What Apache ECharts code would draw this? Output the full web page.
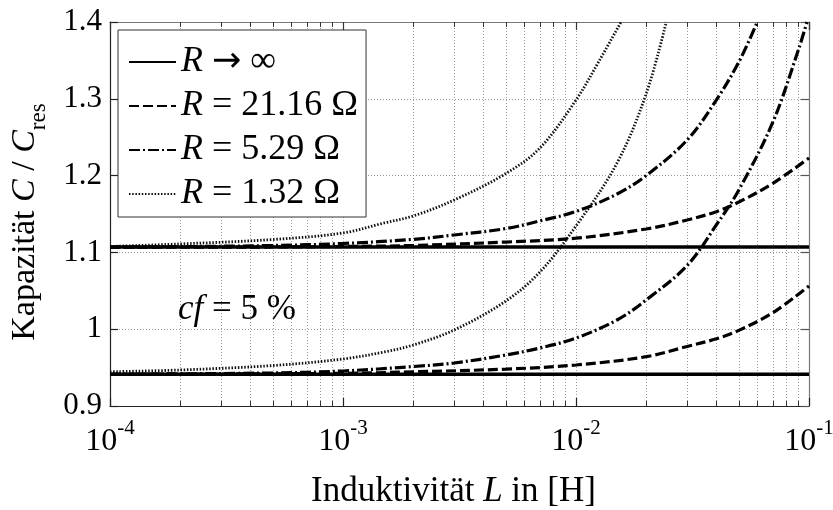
<!DOCTYPE html>
<html>
<head>
<meta charset="utf-8">
<script src="https://cdn.jsdelivr.net/npm/echarts@6/dist/echarts.min.js"></script>
<style>
  html, body { margin: 0; padding: 0; background: #fff; }
  #chart { width: 833px; height: 510px; }
</style>
</head>
<body>
<div id="chart"></div>
<script>
// Legend entries (one per resistance), x tick exponents, y range
const legendLabels = ['R → ∞', 'R = 21.16 Ω', 'R = 5.29 Ω', 'R = 1.32 Ω'];
const xExponents = [-4, -3, -2, -1];
const minorMultipliers = [2, 3, 4, 5, 6, 7, 8, 9];
const yMin = 0.9, yMax = 1.4, yStep = 0.1;

// Upper branch, C / C_res over inductance L in H
const upInfL = [1e-4, 1e-1];
const upInfC = [1.107, 1.107];
const up2116L = [1e-4, 5e-4, 1e-3, 2e-3, 5e-3, 1e-2, 2e-2, 3e-2, 4e-2, 5e-2, 7e-2, 1e-1];
const up2116C = [1.1066, 1.107, 1.1077, 1.109, 1.1135, 1.1185, 1.1305, 1.1422, 1.153, 1.1656, 1.190, 1.2229];
const up529L = [1e-4, 2e-4, 5e-4, 1e-3, 2e-3, 3e-3, 5e-3, 7e-3, 1e-2, 1.5e-2, 2e-2, 3e-2, 4e-2, 5e-2, 6e-2];
const up529C = [1.107, 1.1075, 1.109, 1.1116, 1.117, 1.1227, 1.131, 1.141, 1.1533, 1.176, 1.200, 1.2464, 1.2984, 1.348, 1.40];
const up132L = [1e-4, 2e-4, 5e-4, 1e-3, 1.5e-3, 2e-3, 3e-3, 5e-3, 7e-3, 1e-2, 1.25e-2, 1.56e-2];
const up132C = [1.1077, 1.111, 1.1168, 1.1253, 1.1383, 1.1474, 1.1682, 1.2027, 1.2359, 1.2984, 1.348, 1.40];

// Lower branch
const loInfL = [1e-4, 1e-1];
const loInfC = [0.9413, 0.9413];
const lo2116L = [1e-4, 1e-3, 2e-3, 5e-3, 1e-2, 2e-2, 3e-2, 4e-2, 5e-2, 7e-2, 1e-1];
const lo2116C = [0.9413, 0.9425, 0.9445, 0.948, 0.9534, 0.9642, 0.9775, 0.9875, 0.9985, 1.0215, 1.0563];
const lo529L = [1e-4, 5e-4, 1e-3, 2e-3, 3e-3, 5e-3, 7e-3, 1e-2, 1.5e-2, 2e-2, 3e-2, 4e-2, 5e-2, 7e-2, 9e-2, 9.8e-2];
const lo529C = [0.9413, 0.943, 0.9456, 0.9514, 0.956, 0.9664, 0.9755, 0.9885, 1.012, 1.038, 1.083, 1.1357, 1.1813, 1.2698, 1.3635, 1.40];
const lo132L = [1e-4, 2e-4, 5e-4, 1e-3, 1.5e-3, 2e-3, 3e-3, 5e-3, 7e-3, 1e-2, 1.5e-2, 2e-2, 2.44e-2];
const lo132C = [0.9446, 0.9469, 0.9527, 0.9612, 0.9703, 0.9794, 0.999, 1.0367, 1.0745, 1.1344, 1.2164, 1.3063, 1.40];

const FONT = '"Liberation Serif", "Times New Roman", serif';

const lineStyles = [
  { color: '#000', width: 3.6, type: 'solid' },
  { color: '#000', width: 3.2, type: [10, 4] },
  { color: '#000', width: 3.2, type: [11, 3, 2, 3] },
  { color: '#111', width: 2.8, type: [1.5, 1.7] }
];

function pairs(xs, ys) { return xs.map((x, i) => [x, ys[i]]); }

function curve(idx, xs, ys, z) {
  return {
    name: legendLabels[idx],
    type: 'line',
    data: pairs(xs, ys),
    smooth: 0.35,
    symbol: 'none',
    showSymbol: false,
    lineStyle: lineStyles[idx],
    itemStyle: { color: lineStyles[idx].color },
    z: z,
    silent: true
  };
}

// Log-paper minor positions: 2..9 within each decade
const minorValues = [];
xExponents.slice(0, -1).forEach(function (e) {
  minorMultipliers.forEach(function (m) { minorValues.push(m * Math.pow(10, e)); });
});

const gridLine = { show: true, lineStyle: { color: '#9a9a9a', width: 1, type: [1, 2] } };

const chart = echarts.init(document.getElementById('chart'), null, { renderer: 'canvas' });
chart.setOption({
  animation: false,
  backgroundColor: '#fff',
  grid: { left: 110, right: 24, top: 22, bottom: 104, show: false, containLabel: false, outerBoundsMode: 'none' },
  legend: {
    data: legendLabels,
    orient: 'vertical',
    left: 118,
    top: 30,
    backgroundColor: '#fff',
    borderColor: '#333',
    borderWidth: 1,
    borderRadius: 0,
    padding: [14, 8, 5, 10],
    itemWidth: 47,
    itemHeight: 14,
    itemGap: 8,
    selectedMode: false,
    itemStyle: { color: 'rgba(0,0,0,0)', borderWidth: 0, opacity: 0 },
    formatter: function (name) {
      if (name.indexOf('→') >= 0) return '{i|R} {a|→} ∞';
      return '{i|R}' + name.slice(1);
    },
    textStyle: {
      fontFamily: FONT, fontSize: 36, color: '#000', lineHeight: 36,
      rich: {
        i: { fontFamily: FONT, fontStyle: 'italic', fontSize: 36, color: '#000', lineHeight: 36 },
        a: { fontFamily: '"DejaVu Sans", sans-serif', fontSize: 35, color: '#000', lineHeight: 36 }
      }
    }
  },
  xAxis: [
    {
      type: 'log', logBase: 10, min: 1e-4, max: 1e-1, position: 'bottom',
      name: 'Induktivität {i|L} in [H]',
      nameLocation: 'middle', nameGap: 67,
      nameTextStyle: {
        fontFamily: FONT, fontSize: 35, color: '#000', lineHeight: 38,
        padding: [0, 12, 0, 0],
        rich: { i: { fontFamily: FONT, fontStyle: 'italic', fontSize: 35, color: '#000', lineHeight: 38 } }
      },
      axisLine: { show: true, lineStyle: { color: '#222', width: 1.2 } },
      axisTick: { show: true, inside: true, length: 8, lineStyle: { color: '#222', width: 1.2 } },
      minorTick: { show: false },
      splitLine: gridLine,
      minorSplitLine: { show: false },
      axisLabel: {
        show: true, margin: 12, showMinLabel: true, showMaxLabel: true,
        formatter: function (v) {
          const e = Math.round(Math.log10(v));
          return xExponents.indexOf(e) >= 0 ? '{b|10}{e|' + e + '}' : '';
        },
        rich: {
          b: { fontFamily: FONT, fontSize: 32, color: '#000', lineHeight: 48, verticalAlign: 'middle' },
          e: { fontFamily: FONT, fontSize: 21, color: '#000', lineHeight: 48, verticalAlign: 'top' }
        }
      }
    },
    {
      type: 'log', logBase: 10, min: 1e-4, max: 1e-1, position: 'top',
      axisLine: { show: true, lineStyle: { color: '#777', width: 1.2 } },
      axisTick: { show: true, inside: true, length: 8, lineStyle: { color: '#333', width: 1.2 } },
      minorTick: { show: false },
      splitLine: { show: false },
      axisLabel: { show: false }
    }
  ],
  yAxis: [
    {
      type: 'value', min: yMin, max: yMax, interval: yStep, position: 'left',
      name: 'Kapazität {i|C} / {i|C}{s|res}',
      nameLocation: 'middle', nameRotate: 90, nameGap: 60,
      nameTextStyle: {
        fontFamily: FONT, fontSize: 34, color: '#000', lineHeight: 50,
        padding: [0, 16, 0, 0],
        rich: {
          i: { fontFamily: FONT, fontStyle: 'italic', fontSize: 34, color: '#000', lineHeight: 50 },
          s: { fontFamily: FONT, fontSize: 23, color: '#000', lineHeight: 50, verticalAlign: 'bottom' }
        }
      },
      axisLine: { show: true, lineStyle: { color: '#222', width: 1.2 } },
      axisTick: { show: true, inside: true, length: 8, lineStyle: { color: '#222', width: 1.2 } },
      splitLine: gridLine,
      axisLabel: {
        margin: 8, fontFamily: FONT, fontSize: 31, color: '#000',
        formatter: function (v) { return String(Math.round(v * 10) / 10); }
      }
    },
    {
      type: 'value', min: yMin, max: yMax, interval: yStep, position: 'right',
      axisLine: { show: true, lineStyle: { color: '#777', width: 1.2 } },
      axisTick: { show: true, inside: true, length: 8, lineStyle: { color: '#555', width: 1.2 } },
      splitLine: { show: false },
      axisLabel: { show: false }
    }
  ],
  graphic: [
    {
      type: 'text', left: 178, top: 292, z: 100,
      style: {
        text: '{i|cf} = 5 %',
        fontFamily: FONT, fontSize: 35, fill: '#000',
        rich: { i: { fontFamily: FONT, fontStyle: 'italic', fontSize: 35, fill: '#000' } }
      }
    }
  ],
  series: [
    {
      name: 'minor-grid',
      type: 'custom',
      silent: true,
      z: 1,
      data: minorValues.map(function (v) { return [v, yMin]; }),
      renderItem: function (params, api) {
        const v = api.value(0);
        const pb = api.coord([v, yMin]);
        const pt = api.coord([v, yMax]);
        const x = Math.round(pb[0]) + 0.5;
        return {
          type: 'group',
          children: [
            { type: 'line', shape: { x1: x, y1: pt[1], x2: x, y2: pb[1] },
              style: { stroke: '#9a9a9a', lineWidth: 1, lineDash: [1, 2] } },
            { type: 'line', shape: { x1: x, y1: pb[1], x2: x, y2: pb[1] - 5 },
              style: { stroke: '#333', lineWidth: 1 } },
            { type: 'line', shape: { x1: x, y1: pt[1], x2: x, y2: pt[1] + 5 },
              style: { stroke: '#333', lineWidth: 1 } }
          ]
        };
      }
    },
    curve(3, up132L, up132C, 2),
    curve(3, lo132L, lo132C, 2),
    curve(2, up529L, up529C, 3),
    curve(2, lo529L, lo529C, 3),
    curve(1, up2116L, up2116C, 4),
    curve(1, lo2116L, lo2116C, 4),
    curve(0, upInfL, upInfC, 5),
    curve(0, loInfL, loInfC, 5)
  ]
});
</script>
</body>
</html>
